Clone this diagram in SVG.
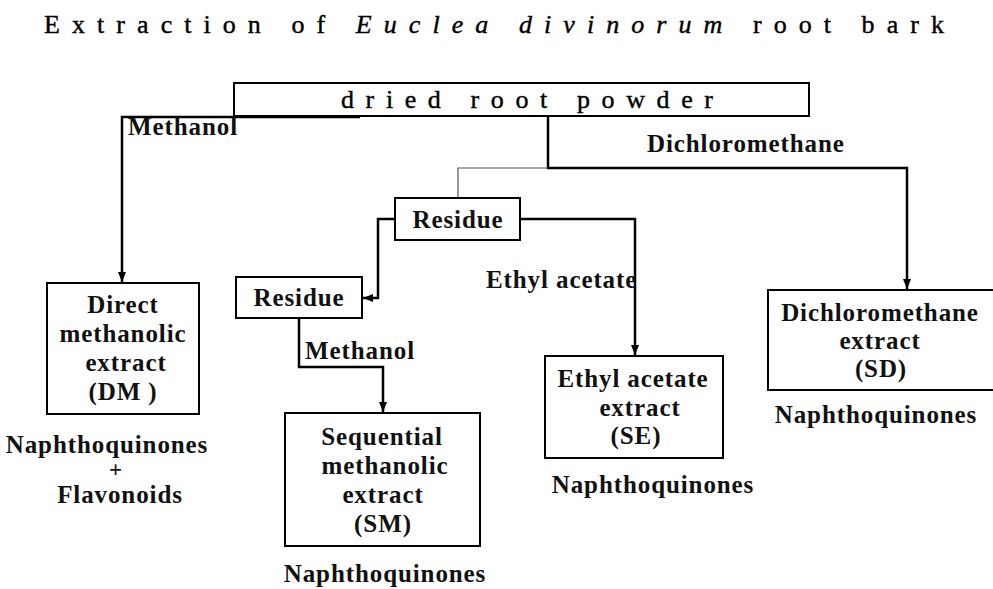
<svg xmlns="http://www.w3.org/2000/svg" width="993" height="589" viewBox="0 0 993 589">
<style>
.box{fill:#fff;stroke:#000;stroke-width:2}
.t{font-family:"Liberation Serif",serif;font-weight:bold;font-size:25px;letter-spacing:0.9px;fill:#111;text-anchor:middle}
.l{font-family:"Liberation Serif",serif;font-weight:bold;font-size:25px;letter-spacing:0.9px;fill:#111}
.ttl{font-family:"Liberation Serif",serif;font-size:26px;fill:#000;stroke:#000;stroke-width:0.4}
.c{fill:none;stroke:#000;stroke-width:2.5}
.thin{fill:none;stroke:#555;stroke-width:1.2}
</style>
<defs>
<marker id="ah" viewBox="0 0 10 10" refX="10" refY="5" markerWidth="10" markerHeight="10" markerUnits="userSpaceOnUse" orient="auto">
<path d="M0,1 L10,5 L0,9 Z" fill="#000"/>
</marker>
</defs>
<rect width="993" height="589" fill="#fff"/>
<text class="ttl" x="44" y="33" textLength="900" lengthAdjust="spacing">Extraction of <tspan font-style="italic">Euclea divinorum</tspan> root bark</text>

<g id="connectors">
<path class="c" d="M360,117 H122 V282" marker-end="url(#ah)"/>
<path class="c" d="M548,116 V168 H907 V289" marker-end="url(#ah)"/>
<path class="thin" d="M548,168 H458 V198"/>
<path class="c" d="M395,219 H378 V298 H363" marker-end="url(#ah)"/>
<path class="c" d="M520,219 H635 V355" marker-end="url(#ah)"/>
<path class="c" d="M299,318 V367 H383 V412" marker-end="url(#ah)"/>
<text class="l" x="128" y="135">Methanol</text>
<text class="l" x="647" y="152">Dichloromethane</text>
<text class="l" x="486" y="288">Ethyl acetate</text>
<text class="l" x="305" y="359">Methanol</text>
</g>

<g id="root">
<rect class="box" x="234" y="83" width="575" height="33"/>
<text class="ttl" x="341" y="108" textLength="372" lengthAdjust="spacing">dried root powder</text>
</g>

<g id="residue1">
<rect class="box" x="395" y="198" width="125" height="42"/>
<text class="t" x="458" y="228">Residue</text>
</g>

<g id="residue2">
<rect class="box" x="236" y="277" width="126" height="41"/>
<text class="t" x="299" y="306">Residue</text>
</g>

<g id="dm">
<rect class="box" x="47" y="283" width="152" height="131"/>
<text class="t" x="123" y="313">Direct</text>
<text class="t" x="123" y="342">methanolic</text>
<text class="t" x="126" y="371">extract</text>
<text class="t" x="123" y="400">(DM )</text>
<text class="t" x="107" y="453">Naphthoquinones</text>
<text class="t" x="116" y="477" style="font-size:23px">+</text>
<text class="t" x="120" y="503">Flavonoids</text>
</g>

<g id="sm">
<rect class="box" x="285" y="413" width="195" height="133"/>
<text class="t" x="382" y="445">Sequential</text>
<text class="t" x="385" y="474">methanolic</text>
<text class="t" x="383" y="503">extract</text>
<text class="t" x="383" y="532">(SM)</text>
<text class="t" x="385" y="582">Naphthoquinones</text>
</g>

<g id="se">
<rect class="box" x="545" y="356" width="178" height="102"/>
<text class="t" x="633" y="387">Ethyl acetate</text>
<text class="t" x="640" y="416">extract</text>
<text class="t" x="636" y="444">(SE)</text>
<text class="t" x="653" y="493">Naphthoquinones</text>
</g>

<g id="sd">
<rect class="box" x="768" y="290" width="226" height="100"/>
<text class="t" x="880" y="321">Dichloromethane</text>
<text class="t" x="880" y="349">extract</text>
<text class="t" x="881" y="377">(SD)</text>
<text class="t" x="876" y="423">Naphthoquinones</text>
</g>
</svg>
